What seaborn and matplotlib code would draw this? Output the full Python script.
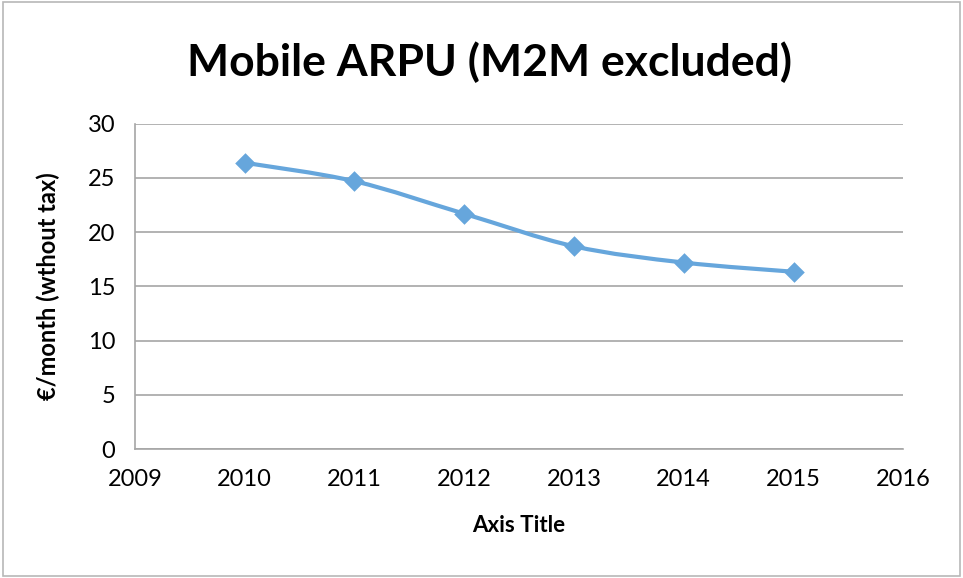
import matplotlib
matplotlib.use('Agg')
import matplotlib.pyplot as plt
from matplotlib.path import Path
from matplotlib.patches import PathPatch, Rectangle
import seaborn as sb
import pandas as pd

# data
years = [2010, 2011, 2012, 2013, 2014, 2015]
arpu = [26.4, 24.7, 21.7, 18.7, 17.2, 16.35]
y_ticks = [0, 5, 10, 15, 20, 25, 30]
x_ticks = [2009, 2010, 2011, 2012, 2013, 2014, 2015, 2016]

title = 'Mobile ARPU (M2M excluded)'
y_label = '€/month (wthout tax)'
x_label = 'Axis Title'

blue = '#66a6dc'
grey = '#a6a6a6'

sb.set_style('white')
plt.rcParams['font.family'] = ['Lato', 'DejaVu Sans']
plt.rcParams['text.color'] = 'black'
plt.rcParams['axes.labelcolor'] = 'black'

data = pd.DataFrame({'year': years, 'arpu': arpu})

fig = plt.figure(figsize=(9.63, 5.78), dpi=100)
ax = fig.add_axes([0.140, 0.223, 0.798, 0.563])

# smoothed line (Excel style bezier through the points)
xs, ys = data['year'].tolist(), data['arpu'].tolist()
pts = list(zip(xs, ys))
verts = [pts[0]]
codes = [Path.MOVETO]
n = len(pts)
for i in range(n - 1):
    p0 = pts[i - 1] if i > 0 else pts[i]
    p1 = pts[i]
    p2 = pts[i + 1]
    p3 = pts[i + 2] if i + 2 < n else pts[i + 1]
    c1 = (p1[0] + (p2[0] - p0[0]) / 6, p1[1] + (p2[1] - p0[1]) / 6)
    c2 = (p2[0] - (p3[0] - p1[0]) / 6, p2[1] - (p3[1] - p1[1]) / 6)
    verts += [c1, c2, p2]
    codes += [Path.CURVE4] * 3
ax.add_patch(PathPatch(Path(verts, codes), facecolor='none', edgecolor=blue,
                       lw=3.0, capstyle='round', joinstyle='round', zorder=3))

sb.scatterplot(data=data, x='year', y='arpu', marker='D', s=110,
               color=blue, edgecolor=blue, linewidth=0, ax=ax, zorder=4)

ax.set_xlim(2009, 2016)
ax.set_ylim(0, 30)
ax.set_xticks(x_ticks)
ax.set_yticks(y_ticks)
ax.tick_params(axis='both', length=0, labelsize=17, colors='black')
ax.tick_params(axis='x', pad=14)
ax.tick_params(axis='y', pad=14)
ax.grid(axis='y', color=grey, lw=1.2)
ax.set_axisbelow(True)
for side in ['top', 'right']:
    ax.spines[side].set_visible(False)
for side in ['left', 'bottom']:
    ax.spines[side].set_color(grey)
    ax.spines[side].set_linewidth(1.2)

ax.set_xlabel(x_label, fontsize=16, fontweight='bold', labelpad=18)
ax.set_ylabel(y_label, fontsize=17, fontweight='bold', labelpad=20)
fig.text(0.508, 0.893, title, ha='center', va='center',
         fontsize=32, fontweight='bold')

# chart area border
fig.patches.append(Rectangle((0.003, 0.003), 0.994, 0.993, transform=fig.transFigure,
                             fill=False, edgecolor='#b8b8b8', lw=1.2))

plt.savefig('out.png', dpi=100)
